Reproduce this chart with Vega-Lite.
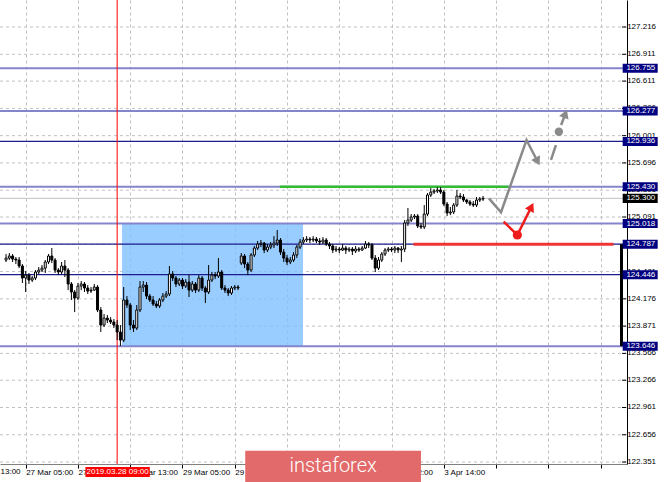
{
"$schema": "https://vega.github.io/schema/vega-lite/v6.json",
"width": 627,
"height": 464,
"autosize": {"type": "none"},
"padding": {"left": 0, "top": 0, "right": 38, "bottom": 18},
"background": "#ffffff",
"config": {"view": {"stroke": null}, "font": "Liberation Sans"},
"datasets": {
"candles": [
{"i":-6,"o":124.610,"h":124.677,"l":124.588,"c":124.632},
{"i":-5,"o":124.632,"h":124.688,"l":124.610,"c":124.655},
{"i":-4,"o":124.655,"h":124.677,"l":124.588,"c":124.621},
{"i":-3,"o":124.621,"h":124.644,"l":124.565,"c":124.610},
{"i":-2,"o":124.610,"h":124.644,"l":124.520,"c":124.543},
{"i":-1,"o":124.543,"h":124.565,"l":124.353,"c":124.409},
{"i":0,"o":124.409,"h":124.487,"l":124.252,"c":124.442},
{"i":1,"o":124.442,"h":124.465,"l":124.342,"c":124.386},
{"i":2,"o":124.386,"h":124.431,"l":124.364,"c":124.409},
{"i":3,"o":124.409,"h":124.498,"l":124.386,"c":124.476},
{"i":4,"o":124.476,"h":124.532,"l":124.453,"c":124.498},
{"i":5,"o":124.498,"h":124.554,"l":124.476,"c":124.520},
{"i":6,"o":124.520,"h":124.610,"l":124.465,"c":124.588},
{"i":7,"o":124.588,"h":124.677,"l":124.565,"c":124.655},
{"i":8,"o":124.655,"h":124.744,"l":124.576,"c":124.610},
{"i":9,"o":124.610,"h":124.632,"l":124.465,"c":124.498},
{"i":10,"o":124.498,"h":124.520,"l":124.442,"c":124.476},
{"i":11,"o":124.476,"h":124.588,"l":124.453,"c":124.543},
{"i":12,"o":124.543,"h":124.610,"l":124.420,"c":124.498},
{"i":13,"o":124.498,"h":124.520,"l":124.274,"c":124.342},
{"i":14,"o":124.342,"h":124.364,"l":124.163,"c":124.252},
{"i":15,"o":124.252,"h":124.274,"l":124.028,"c":124.185},
{"i":16,"o":124.185,"h":124.353,"l":124.163,"c":124.319},
{"i":17,"o":124.319,"h":124.375,"l":124.274,"c":124.342},
{"i":18,"o":124.342,"h":124.364,"l":124.252,"c":124.297},
{"i":19,"o":124.297,"h":124.330,"l":124.230,"c":124.263},
{"i":20,"o":124.263,"h":124.308,"l":124.241,"c":124.274},
{"i":21,"o":124.274,"h":124.342,"l":124.263,"c":124.308},
{"i":22,"o":124.308,"h":124.330,"l":124.028,"c":124.051},
{"i":23,"o":124.051,"h":124.084,"l":123.805,"c":123.883},
{"i":24,"o":123.883,"h":124.006,"l":123.861,"c":123.961},
{"i":25,"o":123.961,"h":123.995,"l":123.905,"c":123.939},
{"i":26,"o":123.939,"h":123.972,"l":123.894,"c":123.917},
{"i":27,"o":123.917,"h":123.950,"l":123.849,"c":123.883},
{"i":28,"o":123.883,"h":123.939,"l":123.715,"c":123.805},
{"i":29,"o":123.805,"h":123.883,"l":123.648,"c":123.715},
{"i":30,"o":123.715,"h":124.308,"l":123.693,"c":124.163},
{"i":31,"o":124.163,"h":124.207,"l":124.073,"c":124.107},
{"i":32,"o":124.107,"h":124.129,"l":123.827,"c":123.883},
{"i":33,"o":123.883,"h":123.939,"l":123.805,"c":123.849},
{"i":34,"o":123.849,"h":124.107,"l":123.827,"c":124.051},
{"i":35,"o":124.051,"h":124.375,"l":124.028,"c":124.308},
{"i":36,"o":124.308,"h":124.375,"l":124.252,"c":124.330},
{"i":37,"o":124.330,"h":124.364,"l":124.174,"c":124.207},
{"i":38,"o":124.207,"h":124.230,"l":124.140,"c":124.163},
{"i":39,"o":124.163,"h":124.207,"l":124.096,"c":124.118},
{"i":40,"o":124.118,"h":124.151,"l":124.073,"c":124.096},
{"i":41,"o":124.096,"h":124.185,"l":124.073,"c":124.163},
{"i":42,"o":124.163,"h":124.241,"l":124.140,"c":124.207},
{"i":43,"o":124.207,"h":124.263,"l":124.185,"c":124.230},
{"i":44,"o":124.230,"h":124.543,"l":124.207,"c":124.453},
{"i":45,"o":124.453,"h":124.487,"l":124.375,"c":124.409},
{"i":46,"o":124.409,"h":124.431,"l":124.308,"c":124.342},
{"i":47,"o":124.342,"h":124.409,"l":124.319,"c":124.386},
{"i":48,"o":124.386,"h":124.409,"l":124.286,"c":124.319},
{"i":49,"o":124.319,"h":124.397,"l":124.297,"c":124.364},
{"i":50,"o":124.364,"h":124.442,"l":124.196,"c":124.274},
{"i":51,"o":124.274,"h":124.375,"l":124.252,"c":124.342},
{"i":52,"o":124.342,"h":124.364,"l":124.241,"c":124.274},
{"i":53,"o":124.274,"h":124.442,"l":124.252,"c":124.409},
{"i":54,"o":124.409,"h":124.431,"l":124.263,"c":124.297},
{"i":55,"o":124.297,"h":124.319,"l":124.129,"c":124.252},
{"i":56,"o":124.252,"h":124.554,"l":124.230,"c":124.386},
{"i":57,"o":124.386,"h":124.476,"l":124.364,"c":124.442},
{"i":58,"o":124.442,"h":124.476,"l":124.397,"c":124.431},
{"i":59,"o":124.431,"h":124.632,"l":124.409,"c":124.476},
{"i":60,"o":124.476,"h":124.498,"l":124.274,"c":124.297},
{"i":61,"o":124.297,"h":124.330,"l":124.241,"c":124.274},
{"i":62,"o":124.274,"h":124.297,"l":124.207,"c":124.241},
{"i":63,"o":124.241,"h":124.319,"l":124.219,"c":124.297},
{"i":64,"o":124.297,"h":124.330,"l":124.274,"c":124.308},
{"i":65,"o":124.308,"h":124.330,"l":124.274,"c":124.297},
{"i":66,"o":124.576,"h":124.688,"l":124.554,"c":124.655},
{"i":67,"o":124.655,"h":124.677,"l":124.520,"c":124.565},
{"i":68,"o":124.565,"h":124.588,"l":124.442,"c":124.498},
{"i":69,"o":124.498,"h":124.688,"l":124.476,"c":124.666},
{"i":70,"o":124.666,"h":124.767,"l":124.644,"c":124.744},
{"i":71,"o":124.744,"h":124.823,"l":124.722,"c":124.789},
{"i":72,"o":124.789,"h":124.834,"l":124.755,"c":124.800},
{"i":73,"o":124.800,"h":124.811,"l":124.688,"c":124.722},
{"i":74,"o":124.722,"h":124.789,"l":124.699,"c":124.755},
{"i":75,"o":124.755,"h":124.811,"l":124.733,"c":124.778},
{"i":76,"o":124.778,"h":124.878,"l":124.744,"c":124.800},
{"i":77,"o":124.800,"h":124.946,"l":124.767,"c":124.834},
{"i":78,"o":124.834,"h":124.856,"l":124.666,"c":124.699},
{"i":79,"o":124.699,"h":124.733,"l":124.588,"c":124.632},
{"i":80,"o":124.632,"h":124.666,"l":124.554,"c":124.588},
{"i":81,"o":124.588,"h":124.644,"l":124.565,"c":124.610},
{"i":82,"o":124.610,"h":124.699,"l":124.588,"c":124.666},
{"i":83,"o":124.666,"h":124.778,"l":124.632,"c":124.755},
{"i":84,"o":124.755,"h":124.845,"l":124.733,"c":124.811},
{"i":85,"o":124.811,"h":124.867,"l":124.789,"c":124.834},
{"i":86,"o":124.834,"h":124.878,"l":124.811,"c":124.845},
{"i":87,"o":124.845,"h":124.867,"l":124.800,"c":124.834},
{"i":88,"o":124.834,"h":124.878,"l":124.811,"c":124.845},
{"i":89,"o":124.845,"h":124.867,"l":124.800,"c":124.823},
{"i":90,"o":124.823,"h":124.856,"l":124.778,"c":124.811},
{"i":91,"o":124.811,"h":124.867,"l":124.789,"c":124.834},
{"i":92,"o":124.834,"h":124.856,"l":124.767,"c":124.789},
{"i":93,"o":124.789,"h":124.811,"l":124.733,"c":124.767},
{"i":94,"o":124.767,"h":124.789,"l":124.688,"c":124.722},
{"i":95,"o":124.722,"h":124.767,"l":124.699,"c":124.733},
{"i":96,"o":124.733,"h":124.755,"l":124.688,"c":124.722},
{"i":97,"o":124.722,"h":124.789,"l":124.711,"c":124.744},
{"i":98,"o":124.744,"h":124.767,"l":124.677,"c":124.722},
{"i":99,"o":124.722,"h":124.755,"l":124.699,"c":124.733},
{"i":100,"o":124.733,"h":124.755,"l":124.666,"c":124.711},
{"i":101,"o":124.711,"h":124.767,"l":124.688,"c":124.733},
{"i":102,"o":124.733,"h":124.755,"l":124.699,"c":124.722},
{"i":103,"o":124.722,"h":124.767,"l":124.711,"c":124.744},
{"i":104,"o":124.744,"h":124.823,"l":124.733,"c":124.789},
{"i":105,"o":124.789,"h":124.811,"l":124.744,"c":124.778},
{"i":106,"o":124.778,"h":124.800,"l":124.610,"c":124.632},
{"i":107,"o":124.632,"h":124.666,"l":124.476,"c":124.520},
{"i":108,"o":124.520,"h":124.644,"l":124.498,"c":124.610},
{"i":109,"o":124.610,"h":124.699,"l":124.588,"c":124.677},
{"i":110,"o":124.677,"h":124.744,"l":124.655,"c":124.722},
{"i":111,"o":124.722,"h":124.755,"l":124.699,"c":124.733},
{"i":112,"o":124.733,"h":124.755,"l":124.699,"c":124.722},
{"i":113,"o":124.722,"h":124.767,"l":124.688,"c":124.744},
{"i":114,"o":124.744,"h":124.755,"l":124.688,"c":124.722},
{"i":115,"o":124.722,"h":124.767,"l":124.588,"c":124.733},
{"i":116,"o":124.733,"h":125.057,"l":124.699,"c":125.024},
{"i":117,"o":125.024,"h":125.192,"l":124.990,"c":125.057},
{"i":118,"o":125.057,"h":125.124,"l":125.035,"c":125.091},
{"i":119,"o":125.091,"h":125.124,"l":125.068,"c":125.102},
{"i":120,"o":125.102,"h":125.124,"l":124.968,"c":124.990},
{"i":121,"o":124.990,"h":125.024,"l":124.957,"c":124.979},
{"i":122,"o":124.979,"h":125.225,"l":124.957,"c":125.124},
{"i":123,"o":125.124,"h":125.359,"l":125.102,"c":125.337},
{"i":124,"o":125.337,"h":125.415,"l":125.315,"c":125.370},
{"i":125,"o":125.370,"h":125.404,"l":125.348,"c":125.382},
{"i":126,"o":125.382,"h":125.426,"l":125.359,"c":125.393},
{"i":127,"o":125.393,"h":125.426,"l":125.348,"c":125.370},
{"i":128,"o":125.370,"h":125.393,"l":125.214,"c":125.236},
{"i":129,"o":125.236,"h":125.259,"l":125.102,"c":125.136},
{"i":130,"o":125.136,"h":125.203,"l":125.113,"c":125.147},
{"i":131,"o":125.147,"h":125.247,"l":125.124,"c":125.225},
{"i":132,"o":125.225,"h":125.393,"l":125.203,"c":125.326},
{"i":133,"o":125.326,"h":125.359,"l":125.292,"c":125.315},
{"i":134,"o":125.315,"h":125.348,"l":125.259,"c":125.281},
{"i":135,"o":125.281,"h":125.292,"l":125.236,"c":125.259},
{"i":136,"o":125.259,"h":125.281,"l":125.214,"c":125.236},
{"i":137,"o":125.236,"h":125.270,"l":125.203,"c":125.225},
{"i":138,"o":125.225,"h":125.315,"l":125.203,"c":125.281},
{"i":139,"o":125.281,"h":125.315,"l":125.259,"c":125.292},
{"i":140,"o":125.292,"h":125.326,"l":125.270,"c":125.300}
],
"yTicks": [{"p":122.351,"t":"122.351"},{"p":122.656,"t":"122.656"},{"p":122.961,"t":"122.961"},{"p":123.266,"t":"123.266"},{"p":123.566,"t":"123.566"},{"p":123.871,"t":"123.871"},{"p":124.176,"t":"124.176"},{"p":124.481,"t":"124.481"},{"p":124.786,"t":"124.786"},{"p":125.091,"t":"125.091"},{"p":125.391,"t":"125.391"},{"p":125.696,"t":"125.696"},{"p":126.001,"t":"126.001"},{"p":126.306,"t":"126.306"},{"p":126.611,"t":"126.611"},{"p":126.911,"t":"126.911"},{"p":127.216,"t":"127.216"}],
"zone": [{"i1": 29.5, "i2": 84.9, "p1": 125.018, "p2": 123.646}],
"current": [{"p": 125.300, "t": "125.300"}],
"levelsLight": [{"p": 126.755}, {"p": 126.277}, {"p": 125.430}, {"p": 125.018}, {"p": 123.646}],
"levelsDark": [{"p": 125.936}, {"p": 124.787}, {"p": 124.446}],
"levelLabels": [{"p": 126.755, "t": "126.755"}, {"p": 126.277, "t": "126.277"}, {"p": 125.936, "t": "125.936"}, {"p": 125.430, "t": "125.430"}, {"p": 125.018, "t": "125.018"}, {"p": 124.787, "t": "124.787"}, {"p": 124.446, "t": "124.446"}, {"p": 123.646, "t": "123.646"}],
"marker": [{"i": 28, "t": "2019.03.28 09:00"}],
"firstLabel": [{"i": -16, "t": "26 Mar 13:00"}],
"green": [{"i1": 77.8, "i2": 147.8, "p": 125.430}],
"redLevel": [{"i1": 118.7, "i2": 179.9, "p": 124.787}],
"greyPath": [{"k": 1, "i": 141.8, "p": 125.300}, {"k": 2, "i": 145.5, "p": 125.144}, {"k": 3, "i": 153.3, "p": 125.952}, {"k": 4, "i": 156.7, "p": 125.712}],
"greyDashed": [{"s": "a", "k": 1, "i": 160.8, "p": 125.729}, {"s": "a", "k": 2, "i": 162.3, "p": 125.896}, {"s": "b", "k": 1, "i": 163.9, "p": 126.120}, {"s": "b", "k": 2, "i": 165.2, "p": 126.246}],
"greyDot": [{"i": 163.2, "p": 126.045}],
"redPath": [{"k": 1, "i": 146.3, "p": 125.039}, {"k": 2, "i": 150.5, "p": 124.890}, {"k": 3, "i": 154.8, "p": 125.204}],
"redDot": [{"i": 150.5, "p": 124.890}],
"range": [{"i": 182.38, "p1": 124.787, "p2": 123.646}],
"logo": [{"t": "instaforex"}]
},
"layer": [
{
"data": {"name": "yTicks"},
"mark": {"type": "rule", "color": "#c0c0c0", "strokeWidth": 1, "strokeDash": [3, 3]},
"encoding": {
"y": {"field": "p", "type": "quantitative", "title": null, "scale": {"domain": [122.329, 127.518], "nice": false, "zero": false},
"axis": {"title": null, "orient": "right", "labels": false, "ticks": false, "grid": false, "domain": true, "domainColor": "#000000", "domainWidth": 1}}
}
},
{
"data": {"name": "zone"},
"mark": {"type": "rect", "color": "#80BFFF", "opacity": 0.8},
"encoding": {
"x": {"field": "i1", "type": "quantitative", "title": null, "scale": {"domain": [-6.325, 182.53], "nice": false, "zero": false},
"axis": {"title": null, "orient": "bottom", "values": [-8,0,8,16,24,32,40,48,56,64,72,80,88,96,104,112,120,128,136,144,152,160,168,176],
"grid": true, "gridColor": "#c0c0c0", "gridDash": [3, 3], "gridWidth": 1,
"domain": true, "domainColor": "#808080", "domainWidth": 1,
"ticks": true, "tickColor": "#000000", "tickSize": 4,
"tickOpacity": {"condition": {"test": "datum.value % 16 != 0", "value": 0}, "value": 1},
"labelExpr": "datum.value % 16 == 0 && datum.value <= 128 ? ['26 Mar 13:00','27 Mar 05:00','27 Mar 21:00','28 Mar 13:00','29 Mar 05:00','29 Mar 21:00','1 Apr 14:00','2 Apr 06:00','2 Apr 22:00','3 Apr 14:00'][(datum.value + 16) / 16] : ''",
"labelAlign": "left", "labelBaseline": "top", "labelPadding": 0, "labelFontSize": 8, "labelFont": "Liberation Sans", "labelColor": "#000000",
"labelOverlap": false, "labelFlush": false, "labelBound": false}},
"x2": {"field": "i2"},
"y": {"field": "p1", "type": "quantitative", "title": null},
"y2": {"field": "p2"}
}
},
{
"data": {"name": "yTicks"},
"mark": {"type": "rule", "color": "#000000", "strokeWidth": 1},
"encoding": {"x": {"datum": 182.53, "type": "quantitative", "title": null}, "x2": {"datum": 183.75}, "y": {"field": "p", "type": "quantitative", "title": null}}
},
{
"data": {"name": "yTicks"},
"mark": {"type": "text", "color": "#000000", "fontSize": 8, "font": "Liberation Sans", "align": "left", "baseline": "middle"},
"encoding": {"x": {"datum": 184.1, "type": "quantitative", "title": null}, "y": {"field": "p", "type": "quantitative", "title": null}, "text": {"field": "t"}}
},
{
"data": {"name": "current"},
"mark": {"type": "rule", "color": "#c0c0c0", "strokeWidth": 1},
"encoding": {"y": {"field": "p", "type": "quantitative", "title": null}}
},
{
"data": {"name": "levelsLight"},
"mark": {"type": "rule", "color": "#8585cc", "strokeWidth": 2},
"encoding": {"y": {"field": "p", "type": "quantitative", "title": null}}
},
{
"data": {"name": "levelsDark"},
"mark": {"type": "rule", "color": "#1c1c8c", "strokeWidth": 1.2},
"encoding": {"y": {"field": "p", "type": "quantitative", "title": null}}
},
{
"data": {"name": "marker"},
"mark": {"type": "rule", "color": "#ff0000", "strokeWidth": 1},
"encoding": {"x": {"field": "i", "type": "quantitative", "title": null}}
},
{
"data": {"name": "green"},
"mark": {"type": "rule", "color": "#33bb33", "strokeWidth": 2.5},
"encoding": {"x": {"field": "i1", "type": "quantitative", "title": null}, "x2": {"field": "i2"}, "y": {"field": "p", "type": "quantitative", "title": null}}
},
{
"data": {"name": "redLevel"},
"mark": {"type": "rule", "color": "#f03434", "strokeWidth": 3},
"encoding": {"x": {"field": "i1", "type": "quantitative", "title": null}, "x2": {"field": "i2"}, "y": {"field": "p", "type": "quantitative", "title": null}}
},
{
"data": {"name": "candles"},
"mark": {"type": "rule", "color": "#000000", "strokeWidth": 1},
"encoding": {"x": {"field": "i", "type": "quantitative", "title": null}, "y": {"field": "l", "type": "quantitative", "title": null}, "y2": {"field": "h"}}
},
{
"data": {"name": "candles"},
"mark": {"type": "bar", "size": 2, "stroke": "#000000", "strokeWidth": 1},
"encoding": {
"x": {"field": "i", "type": "quantitative", "title": null},
"y": {"field": "o", "type": "quantitative", "title": null},
"y2": {"field": "c"},
"fill": {"condition": {"test": "datum.c >= datum.o", "value": "#ffffff"}, "value": "#000000"}
}
},
{
"data": {"name": "greyPath"},
"mark": {"type": "line", "color": "#8a8a8a", "strokeWidth": 2.5},
"encoding": {"x": {"field": "i", "type": "quantitative", "title": null}, "y": {"field": "p", "type": "quantitative", "title": null}, "order": {"field": "k"}}
},
{
"data": {"name": "greyPath"},
"transform": [{"filter": "datum.k == 4"}],
"mark": {"type": "point", "shape": "triangle-up", "filled": true, "color": "#8a8a8a", "size": 100, "angle": 152, "opacity": 1},
"encoding": {"x": {"field": "i", "type": "quantitative", "title": null}, "y": {"field": "p", "type": "quantitative", "title": null}}
},
{
"data": {"name": "greyDashed"},
"mark": {"type": "line", "color": "#8a8a8a", "strokeWidth": 2.5},
"encoding": {"x": {"field": "i", "type": "quantitative", "title": null}, "y": {"field": "p", "type": "quantitative", "title": null}, "detail": {"field": "s"}, "order": {"field": "k"}}
},
{
"data": {"name": "greyDashed"},
"transform": [{"filter": "datum.s == 'b' && datum.k == 2"}],
"mark": {"type": "point", "shape": "triangle-up", "filled": true, "color": "#8a8a8a", "size": 100, "angle": 21, "opacity": 1},
"encoding": {"x": {"field": "i", "type": "quantitative", "title": null}, "y": {"field": "p", "type": "quantitative", "title": null}}
},
{
"data": {"name": "greyDot"},
"mark": {"type": "point", "shape": "circle", "filled": true, "color": "#8a8a8a", "size": 70, "opacity": 1},
"encoding": {"x": {"field": "i", "type": "quantitative", "title": null}, "y": {"field": "p", "type": "quantitative", "title": null}}
},
{
"data": {"name": "redPath"},
"mark": {"type": "line", "color": "#ee1c1c", "strokeWidth": 2.5},
"encoding": {"x": {"field": "i", "type": "quantitative", "title": null}, "y": {"field": "p", "type": "quantitative", "title": null}, "order": {"field": "k"}}
},
{
"data": {"name": "redPath"},
"transform": [{"filter": "datum.k == 3"}],
"mark": {"type": "point", "shape": "triangle-up", "filled": true, "color": "#ee1c1c", "size": 100, "angle": 27, "opacity": 1},
"encoding": {"x": {"field": "i", "type": "quantitative", "title": null}, "y": {"field": "p", "type": "quantitative", "title": null}}
},
{
"data": {"name": "redDot"},
"mark": {"type": "point", "shape": "circle", "filled": true, "color": "#ee1c1c", "size": 85, "opacity": 1},
"encoding": {"x": {"field": "i", "type": "quantitative", "title": null}, "y": {"field": "p", "type": "quantitative", "title": null}}
},
{
"data": {"name": "range"},
"mark": {"type": "rule", "color": "#000000", "strokeWidth": 3},
"encoding": {"x": {"field": "i", "type": "quantitative", "title": null}, "y": {"field": "p1", "type": "quantitative", "title": null}, "y2": {"field": "p2"}}
},
{
"data": {"name": "levelLabels"},
"mark": {"type": "point", "shape": "M-1,-0.26L1,-0.26L1,0.26L-1,0.26Z", "filled": true, "color": "#000080", "size": 1225, "opacity": 1, "strokeWidth": 0},
"encoding": {"x": {"datum": 188.1, "type": "quantitative", "title": null}, "y": {"field": "p", "type": "quantitative", "title": null}}
},
{
"data": {"name": "levelLabels"},
"mark": {"type": "text", "color": "#ffffff", "fontSize": 8, "font": "Liberation Sans", "align": "center", "baseline": "middle"},
"encoding": {"x": {"datum": 188.3, "type": "quantitative", "title": null}, "y": {"field": "p", "type": "quantitative", "title": null}, "text": {"field": "t"}}
},
{
"data": {"name": "current"},
"mark": {"type": "point", "shape": "M-1,-0.26L1,-0.26L1,0.26L-1,0.26Z", "filled": true, "color": "#000000", "size": 1225, "opacity": 1, "strokeWidth": 0},
"encoding": {"x": {"datum": 188.1, "type": "quantitative", "title": null}, "y": {"field": "p", "type": "quantitative", "title": null}}
},
{
"data": {"name": "current"},
"mark": {"type": "text", "color": "#ffffff", "fontSize": 8, "font": "Liberation Sans", "align": "center", "baseline": "middle"},
"encoding": {"x": {"datum": 188.3, "type": "quantitative", "title": null}, "y": {"field": "p", "type": "quantitative", "title": null}, "text": {"field": "t"}}
},
{
"data": {"name": "firstLabel"},
"mark": {"type": "text", "color": "#000000", "fontSize": 8, "font": "Liberation Sans", "align": "left", "baseline": "top"},
"encoding": {"x": {"field": "i", "type": "quantitative", "title": null}, "y": {"datum": 122.284, "type": "quantitative", "title": null}, "text": {"field": "t"}}
},
{
"data": {"name": "marker"},
"mark": {"type": "rect", "color": "#ff0000"},
"encoding": {"x": {"datum": 18.3, "type": "quantitative", "title": null}, "x2": {"datum": 38.0}, "y": {"datum": 122.295, "type": "quantitative", "title": null}, "y2": {"datum": 122.183}}
},
{
"data": {"name": "marker"},
"mark": {"type": "text", "color": "#ffffff", "fontSize": 8, "font": "Liberation Sans", "align": "center", "baseline": "middle"},
"encoding": {"x": {"datum": 28.15, "type": "quantitative", "title": null}, "y": {"datum": 122.239, "type": "quantitative", "title": null}, "text": {"field": "t"}}
},
{
"data": {"name": "logo"},
"mark": {"type": "rect", "color": "#e36a6a"},
"encoding": {"x": {"datum": 67.2, "type": "quantitative", "title": null}, "x2": {"datum": 121.0}, "y": {"datum": 122.477, "type": "quantitative", "title": null}, "y2": {"datum": 122.127}}
},
{
"data": {"name": "logo"},
"mark": {"type": "text", "color": "#ffffff", "fontSize": 20, "font": "Roboto", "fontWeight": 300, "align": "center", "baseline": "middle"},
"encoding": {"x": {"datum": 94.1, "type": "quantitative", "title": null}, "y": {"datum": 122.31, "type": "quantitative", "title": null}, "text": {"field": "t"}}
}
]
}
